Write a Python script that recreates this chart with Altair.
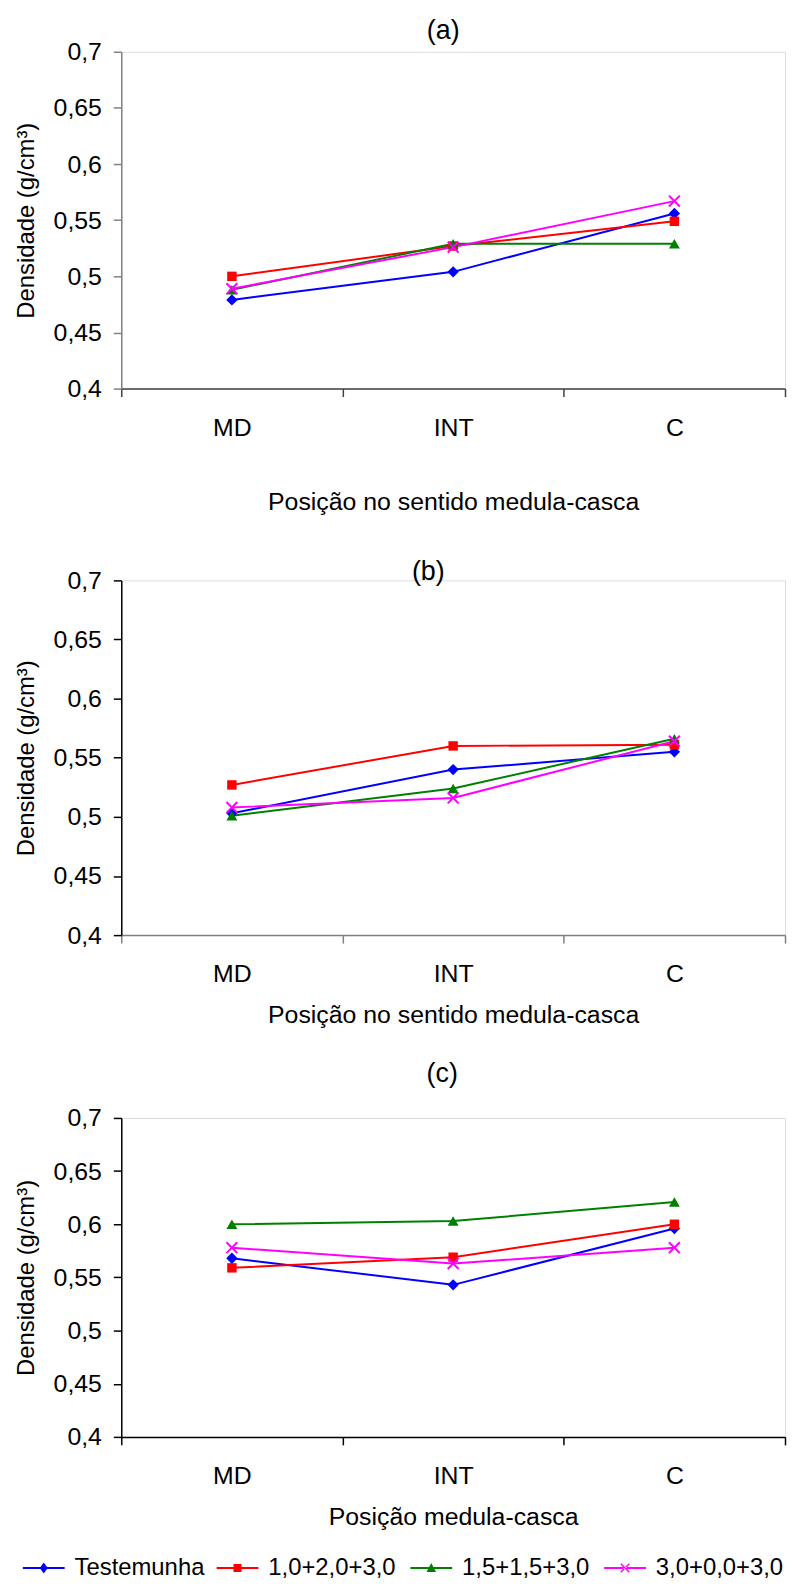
import altair as alt
import pandas as pd

FONT = "Liberation Sans"

positions = ["MD", "INT", "C"]
series = ["Testemunha", "1,0+2,0+3,0", "1,5+1,5+3,0", "3,0+0,0+3,0"]
colors = ["#0000FF", "#FF0000", "#008000", "#FF00FF"]
y_ticks = [0.4, 0.45, 0.5, 0.55, 0.6, 0.65, 0.7]

# panel (a)
a_testemunha = [0.479, 0.504, 0.556]
a_120 = [0.500, 0.527, 0.549]
a_150 = [0.488, 0.529, 0.529]
a_300 = [0.489, 0.526, 0.567]

# panel (b)
b_testemunha = [0.503, 0.540, 0.555]
b_120 = [0.527, 0.560, 0.561]
b_150 = [0.501, 0.524, 0.566]
b_300 = [0.508, 0.516, 0.564]

# panel (c)
c_testemunha = [0.568, 0.543, 0.596]
c_120 = [0.559, 0.569, 0.600]
c_150 = [0.600, 0.603, 0.621]
c_300 = [0.578, 0.563, 0.578]

X_PATH = "M-1,-1L1,1M-1,1L1,-1"
marker_shapes = ["diamond", "square", "triangle-up", X_PATH]
marker_sizes = [130, 90, 120, 120]

# legend symbols (unit = 10 px): a line 42 px long with the marker in its middle
LINE = "M-1,-0.1L3.2,-0.1L3.2,0.1L-1,0.1Z"
legend_paths = [
    LINE + "M1.1,-0.55L1.5,0L1.1,0.55L0.7,0Z",
    LINE + "M0.7,-0.4L1.5,-0.4L1.5,0.4L0.7,0.4Z",
    LINE + "M1.1,-0.5L1.58,0.4L0.62,0.4Z",
    LINE + "M0.62,-0.38L0.72,-0.48L1.58,0.38L1.48,0.48Z"
           "M0.62,0.38L0.72,0.48L1.58,-0.38L1.48,-0.48Z",
]


def make_df(vals):
    rows = []
    for s, arr in zip(series, vals):
        for p, v in zip(positions, arr):
            rows.append({"pos": p, "serie": s, "val": v})
    return pd.DataFrame(rows)


def panel(vals, title, title_dx, title_offset, xtitle, height, xtitle_pad,
          ycolor, xcolor, with_legend=False):
    df = make_df(vals)
    base = alt.Chart(df)
    x = alt.X(
        "pos:N", sort=positions, bandPosition=0.5,
        scale=alt.Scale(type="band", paddingInner=0, paddingOuter=0),
        axis=alt.Axis(
            title=xtitle, tickBand="extent", labelAngle=0,
            labelFont=FONT, labelFontSize=25, labelColor="black",
            labelPadding=19, tickSize=8, tickColor=xcolor, tickWidth=1.5,
            domainColor=xcolor, domainWidth=1.5,
            titleFont=FONT, titleFontSize=25, titleFontWeight="normal",
            titleColor="black", titlePadding=xtitle_pad, grid=False,
        ),
    )
    y = alt.Y(
        "val:Q",
        scale=alt.Scale(domain=[0.4, 0.7], nice=False, zero=False),
        axis=alt.Axis(
            title="Densidade (g/cm³)", values=y_ticks,
            labelExpr="replace(format(datum.value, '.2~f'), '.', ',')",
            labelFont=FONT, labelFontSize=25, labelColor="black",
            labelPadding=12, tickSize=8, tickColor=ycolor, tickWidth=1.5,
            domainColor=ycolor, domainWidth=1.5,
            titleFont=FONT, titleFontSize=24, titleFontWeight="normal",
            titleColor="black", titlePadding=15, grid=False,
        ),
    )
    layers = []
    for s, c in zip(series, colors):
        layers.append(
            base.mark_line(strokeWidth=2, color=c)
            .encode(x=x, y=y)
            .transform_filter(alt.datum.serie == s)
        )
    for s, c, shp, sz in zip(series, colors, marker_shapes, marker_sizes):
        if shp == X_PATH:
            m = base.mark_point(shape=shp, filled=False, stroke=c, strokeWidth=2,
                                size=sz, opacity=1)
        else:
            m = base.mark_point(shape=shp, filled=True, fill=c, size=sz, opacity=1,
                                strokeWidth=0)
        layers.append(m.encode(x=x, y=y).transform_filter(alt.datum.serie == s))
    if with_legend:
        lg = alt.Legend(
            title=None, orient="none", legendX=-101, legendY=1514,
            direction="horizontal", columns=4, gridAlign="all",
            labelFont=FONT, labelFontSize=24, labelColor="black",
            symbolSize=400, symbolOpacity=1, symbolStrokeWidth=0,
            labelOffset=30, columnPadding=10, padding=0,
        )
        layers.append(
            base.mark_point(filled=True, size=400, opacity=0).encode(
                x=x, y=y,
                fill=alt.Fill("serie:N", scale=alt.Scale(domain=series, range=colors),
                              legend=lg),
                shape=alt.Shape("serie:N",
                                scale=alt.Scale(domain=series, range=legend_paths),
                                legend=lg),
            )
        )
    return alt.layer(*layers).properties(
        width=668, height=height,
        title=alt.TitleParams(text=title, font=FONT, fontSize=27,
                              fontWeight="normal", color="black",
                              anchor="middle", frame="group", dx=title_dx,
                              offset=title_offset),
    )


pa = panel([a_testemunha, a_120, a_150, a_300], "(a)", -10, -5,
           "Posição no sentido medula-casca", 339, 50, "#808080", "#404040")
pb = panel([b_testemunha, b_120, b_150, b_300], "(b)", -25, -18,
           "Posição no sentido medula-casca", 357, 16, "#000000", "#808080")
pc = panel([c_testemunha, c_120, c_150, c_300], "(c)", -11, 18,
           "Posição medula-casca", 321, 16, "#000000", "#000000", with_legend=True)

top = alt.vconcat(pa, pb, spacing=42)
chart = alt.vconcat(top, pc, spacing=31).properties(
    padding={"left": 5, "top": 3, "right": 0, "bottom": 0}
).configure_view(stroke=None).configure(background="white")

chart.save("out.html", embed_options={"renderer": "svg", "actions": False})
